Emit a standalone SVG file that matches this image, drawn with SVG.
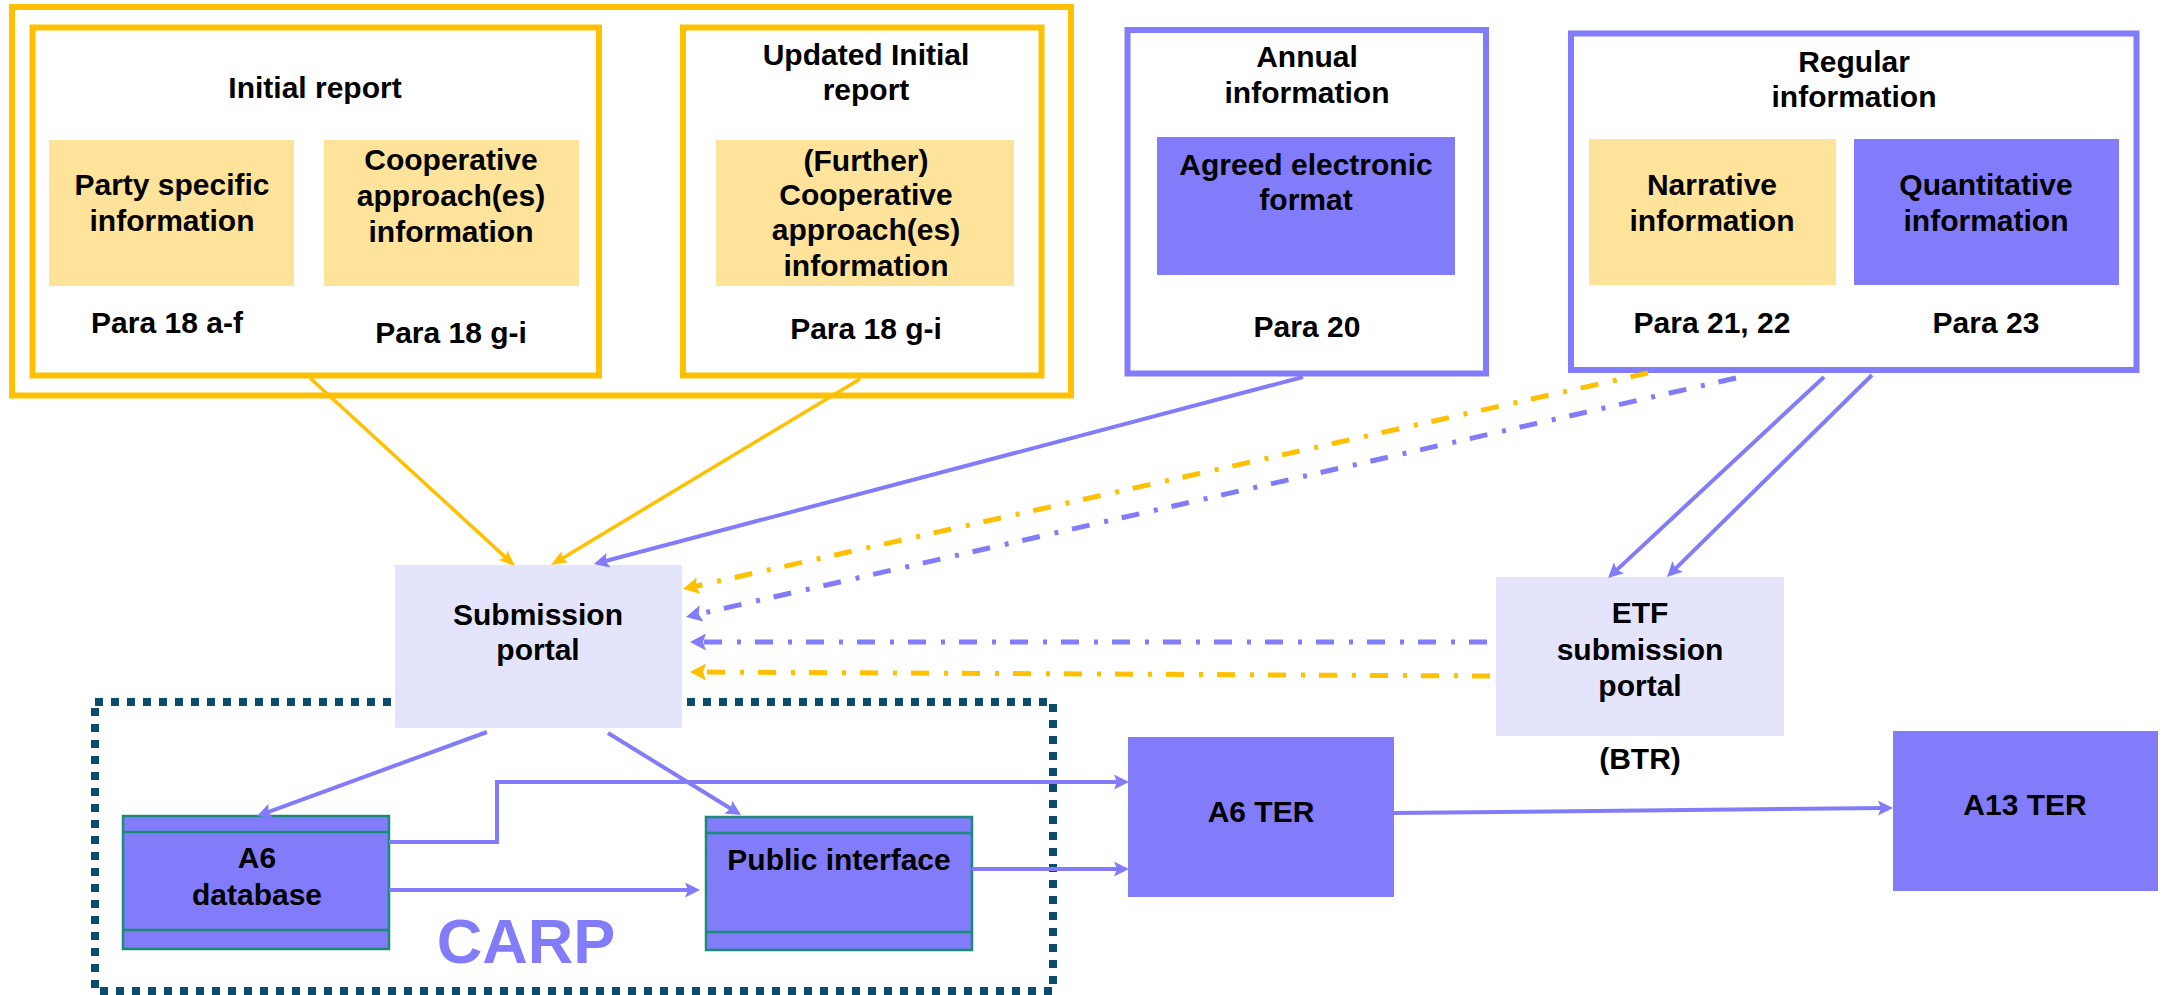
<svg xmlns="http://www.w3.org/2000/svg" width="2164" height="995" viewBox="0 0 2164 995">
<defs>
<style>
text{font-family:"Liberation Sans",Arial,sans-serif;font-weight:bold;font-size:30px;fill:#000;text-anchor:middle}
.fy{fill:none;stroke:#FFC000;stroke-width:6}
.fb{fill:none;stroke:#837CFA;stroke-width:6}
.ly{fill:#FFE39B}
.db{fill:#837CFA}
.lv{fill:#E4E4FC}
.dbx{fill:#837CFA;stroke:#1B8A78;stroke-width:2.5}
.dbl{stroke:#1B8A78;stroke-width:2.5}
.cy{fill:none;stroke:#FFC000;stroke-width:3.5}
.cb{fill:none;stroke:#837CFA;stroke-width:4}
.dy{fill:none;stroke:#FFC000;stroke-width:5;stroke-dasharray:18 14 4 15}
.dbd{fill:none;stroke:#837CFA;stroke-width:5;stroke-dasharray:18 14 4 15}
</style>
<marker id="ay" markerUnits="userSpaceOnUse" markerWidth="16" markerHeight="13" refX="8" refY="6.5" orient="auto"><path d="M0,0 L16,6.5 L0,13 L3,6.5 Z" fill="#FFC000"/></marker>
<marker id="ab" markerUnits="userSpaceOnUse" markerWidth="15" markerHeight="15" refX="7" refY="7.5" orient="auto"><path d="M0,0 L15,7.5 L0,15 L3,7.5 Z" fill="#837CFA"/></marker>
<marker id="ayd" markerUnits="userSpaceOnUse" markerWidth="16" markerHeight="17" refX="8" refY="8.5" orient="auto"><path d="M0,0 L16,8.5 L0,17 L3,8.5 Z" fill="#FFC000"/></marker>
<marker id="abd" markerUnits="userSpaceOnUse" markerWidth="16" markerHeight="17" refX="8" refY="8.5" orient="auto"><path d="M0,0 L16,8.5 L0,17 L3,8.5 Z" fill="#837CFA"/></marker>
</defs>
<rect width="2164" height="995" fill="#fff"/>

<g id="carp-frame">
<rect x="95" y="702" width="958" height="289" fill="none" stroke="#0B4C6E" stroke-width="8" stroke-dasharray="8 8"/>
<text x="526" y="963" style="font-size:63px;fill:#837CFA">CARP</text>
</g>

<g id="article6-frame">
<rect class="fy" x="12" y="7" width="1059" height="388.5"/>
</g>

<g id="initial-report">
<rect class="fy" x="32.5" y="27.5" width="566.5" height="348"/>
<text x="315" y="98">Initial report</text>
<rect class="ly" x="49" y="140" width="245" height="146"/>
<text x="172" y="195">Party specific</text>
<text x="172" y="231">information</text>
<rect class="ly" x="324" y="140" width="255" height="146"/>
<text x="451" y="170">Cooperative</text>
<text x="451" y="206">approach(es)</text>
<text x="451" y="242">information</text>
<text x="167" y="333">Para 18 a-f</text>
<text x="451" y="343">Para 18 g-i</text>
</g>

<g id="updated-initial-report">
<rect class="fy" x="683" y="27.5" width="358.5" height="348"/>
<text x="866" y="65">Updated Initial</text>
<text x="866" y="100">report</text>
<rect class="ly" x="716" y="140" width="298" height="146"/>
<text x="866" y="171">(Further)</text>
<text x="866" y="205">Cooperative</text>
<text x="866" y="240">approach(es)</text>
<text x="866" y="276">information</text>
<text x="866" y="339">Para 18 g-i</text>
</g>

<g id="annual-information">
<rect class="fb" x="1127.5" y="30" width="358.5" height="343.5"/>
<text x="1307" y="67">Annual</text>
<text x="1307" y="103">information</text>
<rect class="db" x="1157" y="137" width="298" height="138"/>
<text x="1306" y="175">Agreed electronic</text>
<text x="1306" y="210">format</text>
<text x="1307" y="337">Para 20</text>
</g>

<g id="regular-information">
<rect class="fb" x="1571" y="33.5" width="565.5" height="336.5"/>
<text x="1854" y="72">Regular</text>
<text x="1854" y="107">information</text>
<rect class="ly" x="1589" y="139" width="247" height="146"/>
<text x="1712" y="195">Narrative</text>
<text x="1712" y="231">information</text>
<rect class="db" x="1854" y="139" width="265" height="146"/>
<text x="1986" y="195">Quantitative</text>
<text x="1986" y="231">information</text>
<text x="1712" y="333">Para 21, 22</text>
<text x="1986" y="333">Para 23</text>
</g>

<g id="submission-portal">
<rect class="lv" x="395" y="565" width="287" height="163"/>
<text x="538" y="625">Submission</text>
<text x="538" y="660">portal</text>
</g>

<g id="etf-submission-portal">
<rect class="lv" x="1496" y="577" width="288" height="159"/>
<text x="1640" y="623">ETF</text>
<text x="1640" y="660">submission</text>
<text x="1640" y="696">portal</text>
<text x="1640" y="769">(BTR)</text>
</g>

<g id="a6-database">
<rect class="dbx" x="123" y="816" width="266" height="133"/>
<line class="dbl" x1="123" y1="832" x2="389" y2="832"/>
<line class="dbl" x1="123" y1="930" x2="389" y2="930"/>
<text x="257" y="868">A6</text>
<text x="257" y="905">database</text>
</g>

<g id="public-interface">
<rect class="dbx" x="706" y="817" width="266" height="133"/>
<line class="dbl" x1="706" y1="833" x2="972" y2="833"/>
<line class="dbl" x1="706" y1="932" x2="972" y2="932"/>
<text x="839" y="870">Public interface</text>
</g>

<g id="a6-ter">
<rect class="db" x="1128" y="737" width="266" height="160"/>
<text x="1261" y="822">A6 TER</text>
</g>

<g id="a13-ter">
<rect class="db" x="1893" y="731" width="265" height="160"/>
<text x="2025" y="815">A13 TER</text>
</g>

<g id="connectors">
<path class="cy" d="M310,378 L509.1,560.6" marker-end="url(#ay)"/>
<path class="cy" d="M860,379 L557.9,560.9" marker-end="url(#ay)"/>
<path class="cb" d="M1303,377 L601.7,562" marker-end="url(#ab)"/>
<path class="dy" d="M1648,373 L690.8,587.3" marker-end="url(#ayd)"/>
<path class="dbd" d="M1736,378 L693.8,615.2" marker-end="url(#abd)"/>
<path class="dbd" d="M1487,642 L698,642" marker-end="url(#abd)"/>
<path class="dy" d="M1490,676 L698,672" marker-end="url(#ayd)"/>
<path class="cb" d="M1824,377 L1613.9,572.6" marker-end="url(#ab)"/>
<path class="cb" d="M1872,375 L1672.7,571.4" marker-end="url(#ab)"/>
<path class="cb" d="M487,732 L264.5,813.3" marker-end="url(#ab)"/>
<path class="cb" d="M608,733 L734.2,810.8" marker-end="url(#ab)"/>
<path class="cb" d="M389,842 H497 V782 H1121" marker-end="url(#ab)"/>
<path class="cb" d="M389,890 H692" marker-end="url(#ab)"/>
<path class="cb" d="M972,869 H1121" marker-end="url(#ab)"/>
<path class="cb" d="M1394,813 L1885,808" marker-end="url(#ab)"/>
</g>
</svg>
